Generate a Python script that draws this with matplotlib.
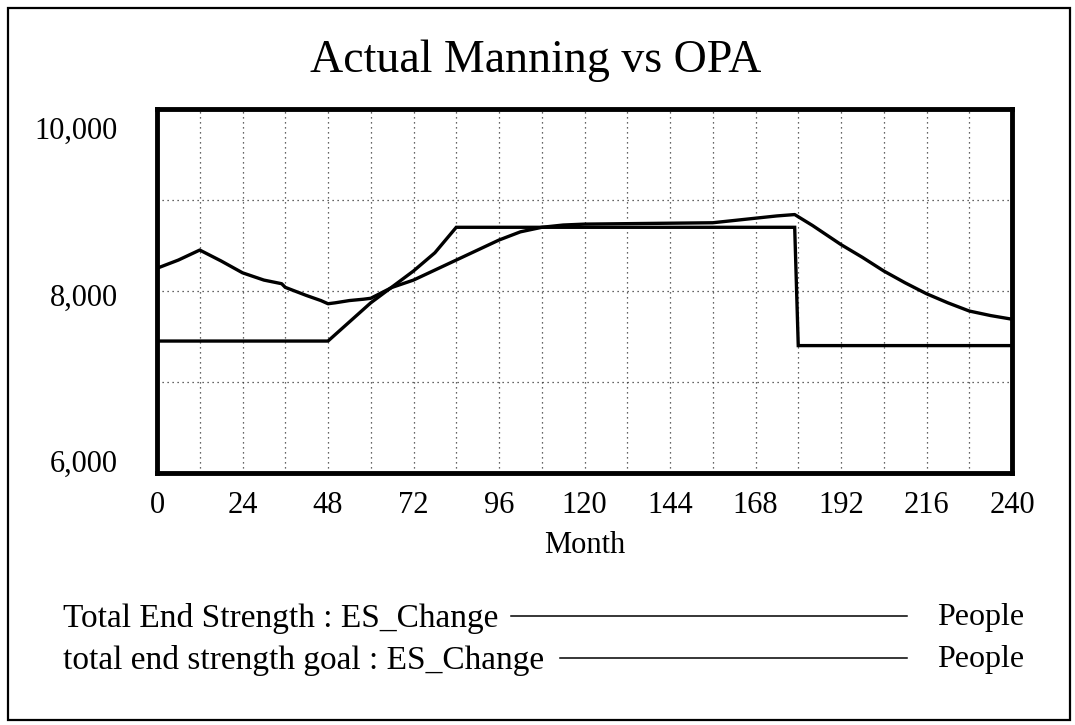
import matplotlib
matplotlib.use("Agg")
import matplotlib.pyplot as plt
import matplotlib.transforms as mtransforms
from matplotlib.lines import Line2D
from matplotlib.patches import Rectangle

# Total End Strength : ES_Change
months_actual = [0, 6, 12, 18, 24, 30, 35, 36, 42, 46, 48, 50, 54, 58, 60, 62, 66,
                 72, 78, 84, 90, 96, 102, 108, 114, 120, 132, 144, 156, 162, 168,
                 174, 179, 184, 192, 198, 204, 210, 216, 222, 228, 234, 240]
strength_actual = [8250, 8340, 8450, 8330, 8200, 8120, 8080, 8040, 7950, 7895, 7860,
                   7870, 7895, 7910, 7920, 7960, 8040, 8120, 8230, 8340, 8450, 8560,
                   8650, 8700, 8725, 8735, 8740, 8745, 8750, 8775, 8800, 8825, 8840,
                   8720, 8510, 8370, 8220, 8090, 7970, 7870, 7780, 7730, 7690]

# total end strength goal : ES_Change
months_goal = [0, 48, 60, 72, 78, 84, 179, 180, 240]
strength_goal = [7450, 7450, 7870, 8220, 8420, 8700, 8700, 7400, 7400]

x_ticks = list(range(0, 241, 24))
y_ticks = [6000, 8000, 10000]
y_tick_labels = ["6,000", "8,000", "10,000"]
legend_names = ["Total End Strength : ES_Change", "total end strength goal : ES_Change"]
unit = "People"

W, H = 1075, 725
serif = "Liberation Serif"


def fx(px):
    return px / W


def fy(py):
    return 1 - py / H


fig = plt.figure(figsize=(W / 100, H / 100), dpi=100)
fig.patch.set_facecolor("white")

# outer frame of the panel
fig.add_artist(Rectangle((fx(8), fy(720)), fx(1070) - fx(8), fy(8) - fy(720),
                         transform=fig.transFigure, fill=False, ec="black", lw=1.6))

ax = fig.add_axes([fx(157), fy(473), fx(1012) - fx(157), fy(109) - fy(473)])
ax.plot(months_actual, strength_actual, color="black", lw=2.4, solid_joinstyle="round")
ax.plot(months_goal, strength_goal, color="black", lw=2.4, solid_joinstyle="miter")

ax.set_xlim(0, 240)
ax.set_ylim(6000, 10000)
ax.set_xticks(x_ticks)
ax.set_xticks(range(0, 241, 12), minor=True)
ax.set_yticks(y_ticks)
ax.set_yticklabels(y_tick_labels)
ax.set_yticks([7000, 9000], minor=True)
ax.grid(True, which="both", color="#333333", lw=0.9, linestyle=(0, (1, 3)))
ax.tick_params(which="both", length=0)
ax.tick_params(axis="y", pad=28, labelsize=22)
ax.tick_params(axis="x", pad=13, labelsize=22)
for lab in ax.get_xticklabels() + ax.get_yticklabels():
    lab.set_fontfamily(serif)

# Vensim style: end labels pulled inside the axis range
shifts = [12, -4, -19]
for lab, dy in zip(ax.get_yticklabels(), shifts):
    lab.set_transform(lab.get_transform() +
                      mtransforms.ScaledTranslation(0, dy / 100, fig.dpi_scale_trans))

for sp in ax.spines.values():
    sp.set_linewidth(3.5)

ax.set_xlabel("Month", fontsize=22, family=serif, labelpad=8)

fig.text(fx(536), fy(72), "Actual Manning vs OPA", ha="center", va="baseline",
         fontsize=33, family=serif)

# legend rows
rows = [(618, 511), (660, 560)]
for name, (ry, lx) in zip(legend_names, rows):
    fig.text(fx(63), fy(ry), name, ha="left", va="center", fontsize=24, family=serif)
    fig.add_artist(Line2D([fx(lx), fx(907)], [fy(ry - 2), fy(ry - 2)],
                          transform=fig.transFigure, color="black", lw=1.1))
    fig.text(fx(937), fy(ry), unit, ha="left", va="center", fontsize=23, family=serif)

fig.savefig("out.png", dpi=100)
